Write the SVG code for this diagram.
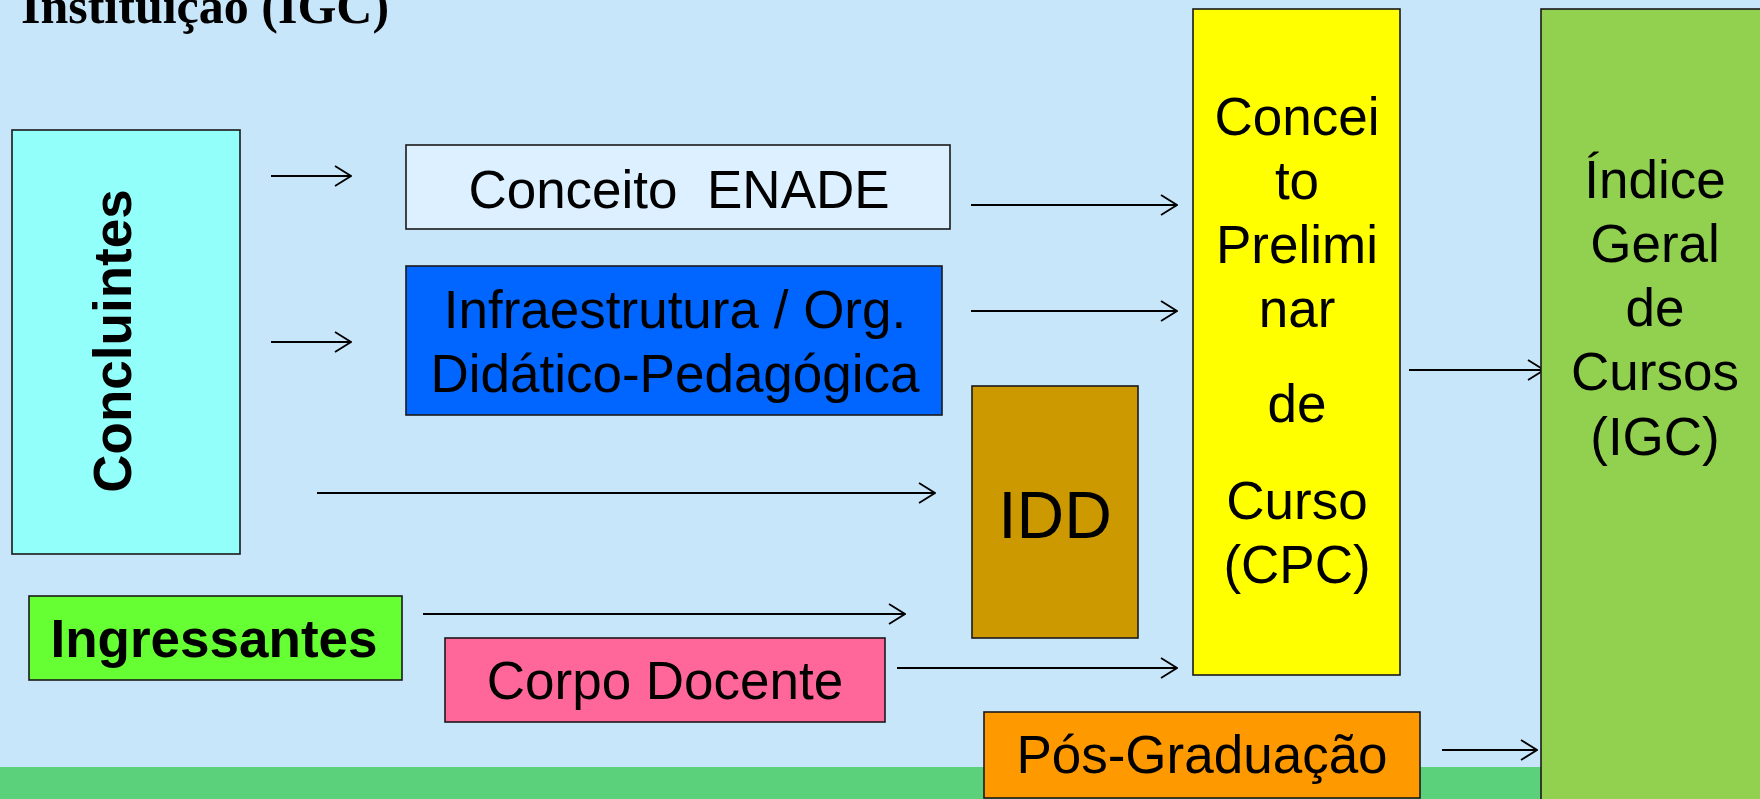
<svg xmlns="http://www.w3.org/2000/svg" width="1760" height="799" viewBox="0 0 1760 799">
<style>
.box{stroke:#1a1a1a;stroke-width:1.6}
.t{font-family:"Liberation Sans",Arial,sans-serif;font-size:53px;fill:#000;text-anchor:middle}
.b{font-weight:bold}
.conn line{stroke:#000;stroke-width:1.8;marker-end:url(#ah)}
</style>
<defs>
<marker id="ah" markerUnits="userSpaceOnUse" viewBox="0 0 18 22" refX="17" refY="11" markerWidth="18" markerHeight="22" orient="auto">
<path d="M1,1 L17,11 L1,21" fill="none" stroke="#000" stroke-width="1.8"/>
</marker>
</defs>
<rect x="0" y="0" width="1760" height="799" fill="#C8E6FA"/>
<rect x="0" y="767" width="1760" height="32" fill="#5CD17B"/>
<text x="21" y="23" font-family="'Liberation Serif','Times New Roman',serif" font-weight="bold" font-size="50">Instituiçao (IGC)</text>

<g id="connectors" class="conn">
<line x1="271" y1="176" x2="351" y2="176"/>
<line x1="271" y1="342" x2="351" y2="342"/>
<line x1="317" y1="493" x2="935" y2="493"/>
<line x1="971" y1="205" x2="1177" y2="205"/>
<line x1="971" y1="311" x2="1177" y2="311"/>
<line x1="423" y1="614" x2="905" y2="614"/>
<line x1="897" y1="668" x2="1177" y2="668"/>
<line x1="1409" y1="370" x2="1544" y2="370"/>
<line x1="1442" y1="750" x2="1537" y2="750"/>
</g>

<g id="concluintes">
<rect class="box" x="12" y="130" width="228" height="424" fill="#93FFFA"/>
<text class="t b" transform="translate(131,341) rotate(-90)">Concluintes</text>
</g>

<g id="enade">
<rect class="box" x="406" y="145" width="544" height="84" fill="#DDF0FF"/>
<text class="t" x="679" y="208" xml:space="preserve">Conceito  ENADE</text>
</g>

<g id="infra">
<rect class="box" x="406" y="266" width="536" height="149" fill="#0066FF"/>
<text class="t" x="675" y="328">Infraestrutura / Org.</text>
<text class="t" x="675" y="392">Didático-Pedagógica</text>
</g>

<g id="idd">
<rect class="box" x="972" y="386" width="166" height="252" fill="#CC9900"/>
<text class="t" x="1055" y="538" style="font-size:66px">IDD</text>
</g>

<g id="cpc">
<rect class="box" x="1193" y="9" width="207" height="666" fill="#FFFF00"/>
<text class="t" x="1297" y="135">Concei</text>
<text class="t" x="1297" y="199">to</text>
<text class="t" x="1297" y="263">Prelimi</text>
<text class="t" x="1297" y="327">nar</text>
<text class="t" x="1297" y="422">de</text>
<text class="t" x="1297" y="519">Curso</text>
<text class="t" x="1297" y="583">(CPC)</text>
</g>

<g id="igc">
<rect class="box" x="1541" y="9" width="240" height="800" fill="#92D050"/>
<text class="t" x="1655" y="198">Índice</text>
<text class="t" x="1655" y="262">Geral</text>
<text class="t" x="1655" y="326">de</text>
<text class="t" x="1655" y="390">Cursos</text>
<text class="t" x="1655" y="455">(IGC)</text>
</g>

<g id="ingressantes">
<rect class="box" x="29" y="596" width="373" height="84" fill="#66FF33"/>
<text class="t b" x="214" y="657">Ingressantes</text>
</g>

<g id="corpo">
<rect class="box" x="445" y="638" width="440" height="84" fill="#FF6699"/>
<text class="t" x="665" y="699">Corpo Docente</text>
</g>

<g id="pos">
<rect class="box" x="984" y="712" width="436" height="86" fill="#FF9900"/>
<text class="t" x="1202" y="773">Pós-Graduação</text>
</g>
</svg>
